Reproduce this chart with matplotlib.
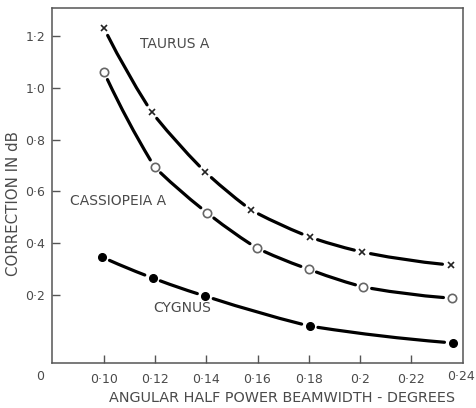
import matplotlib
matplotlib.use("Agg")
import matplotlib.pyplot as plt
import numpy as np

# values
taurus_x = [0.100, 0.1186, 0.1396, 0.1575, 0.1804, 0.2010, 0.2355]
taurus_y = [1.231, 0.907, 0.675, 0.528, 0.424, 0.366, 0.316]

cass_x = [0.100, 0.1198, 0.1404, 0.1598, 0.1800, 0.2014, 0.2359]
cass_y = [1.061, 0.694, 0.517, 0.381, 0.300, 0.231, 0.188]

cygnus_x = [0.0992, 0.1190, 0.1396, 0.1804, 0.2363]
cygnus_y = [0.347, 0.266, 0.196, 0.080, 0.015]

x_ticks = [0.10, 0.12, 0.14, 0.16, 0.18, 0.20, 0.22]
x_tick_labels = ["0·10", "0·12", "0·14", "0·16", "0·18", "0·2", "0·22"]
y_ticks = [0.2, 0.4, 0.6, 0.8, 1.0, 1.2]
y_tick_labels = ["0·2", "0·4", "0·6", "0·8", "1·0", "1·2"]

grey = "#555555"
txt = "#4a4a4a"

fig = plt.figure(figsize=(4.76, 4.08), dpi=100)
ax = fig.add_axes([52 / 476, 45 / 408, 411 / 476, 355 / 408])
ax.set_xlim(0.0797, 0.2403)
ax.set_ylim(-0.0625, 1.308)


def draw_curve(xs, ys, gap=6.0, lw=2.3, rad=0.03):
    # a slightly bowed line between each pair of markers, broken short of them
    for i in range(len(xs) - 1):
        ax.annotate("", xy=(xs[i + 1], ys[i + 1]), xytext=(xs[i], ys[i]),
                    arrowprops=dict(arrowstyle="-", color="black", lw=lw,
                                    shrinkA=gap, shrinkB=gap,
                                    connectionstyle="arc3,rad=%.2f" % rad))


draw_curve(taurus_x, taurus_y)
draw_curve(cass_x, cass_y)
draw_curve(cygnus_x, cygnus_y, rad=0.02)

ax.plot(taurus_x, taurus_y, linestyle="none", marker="x", ms=4.5, mew=1.2,
        color="#222222", zorder=3)
ax.plot(cass_x, cass_y, linestyle="none", marker="o", ms=6, mew=1.2,
        mec="#666666", mfc="white", zorder=3)
ax.plot(cygnus_x, cygnus_y, linestyle="none", marker="o", ms=5.5,
        color="black", zorder=3)

ax.text(0.1278, 1.169, "TAURUS A", fontsize=10, color=txt, ha="center", va="center")
ax.text(0.1055, 0.563, "CASSIOPEIA A", fontsize=10, color=txt, ha="center", va="center")
ax.text(0.1305, 0.150, "CYGNUS", fontsize=10, color=txt, ha="center", va="center")

ax.set_xticks(x_ticks)
ax.set_xticklabels(x_tick_labels)
ax.set_yticks(y_ticks)
ax.set_yticklabels(y_tick_labels)
ax.tick_params(direction="in", length=6, width=1, color=grey, labelcolor=txt,
               labelsize=9)
ax.tick_params(axis="x", pad=7)
ax.tick_params(axis="y", pad=5)

# end label and origin label sit outside the ticks
fig.text(475 / 476, 1 - 377 / 408, "0·24", fontsize=9, color=txt, ha="right",
         va="center")
fig.text(40 / 476, 1 - 376 / 408, "0", fontsize=9, color=txt, ha="center",
         va="center")

for s in ax.spines.values():
    s.set_color(grey)
    s.set_linewidth(1.1)

fig.text(282 / 476, 1 - 398 / 408, "ANGULAR HALF POWER BEAMWIDTH - DEGREES",
         fontsize=10.4, color=txt, ha="center", va="center")
fig.text(14 / 476, 1 - 203 / 408, "CORRECTION IN dB", fontsize=10.8, color=txt,
         ha="center", va="center", rotation=90)

fig.savefig("out.png", dpi=100)
